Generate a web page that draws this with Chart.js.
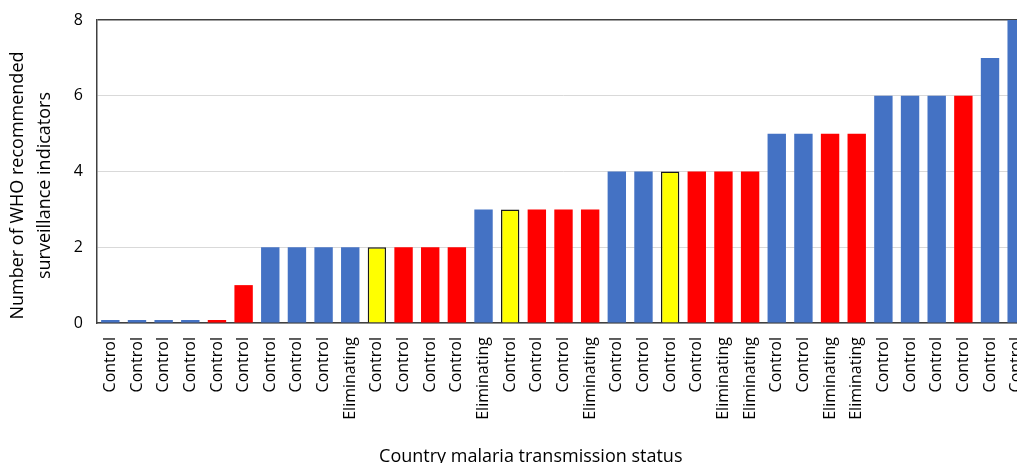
<!DOCTYPE html>
<html>
<head>
<meta charset="utf-8">
<script src="https://cdn.jsdelivr.net/npm/chart.js@4"></script>
<style>
  html, body { margin: 0; padding: 0; background: #fff; overflow: hidden; }
  #wrap { width: 1030px; height: 463px; }
</style>
</head>
<body>
<div id="wrap"><canvas id="myChart"></canvas></div>
<script>
// transmission status of each country (x categories)
var statusLabels = ['Control','Control','Control','Control','Control','Control','Control','Control','Control','Eliminating',
  'Control','Control','Control','Control','Eliminating','Control','Control','Control','Eliminating','Control',
  'Control','Control','Control','Eliminating','Eliminating','Control','Control','Eliminating','Eliminating','Control',
  'Control','Control','Control','Control','Control'];
// number of indicators per country
var indicators = [0.08,0.08,0.08,0.08,0.08,1,2,2,2,2,
  2,2,2,2,3,3,3,3,3,4,
  4,4,4,4,4,5,5,5,5,6,
  6,6,6,7,8];
// bar colour group
var group = ['b','b','b','b','r','r','b','b','b','b',
  'y','r','r','r','b','y','r','r','r','b',
  'b','y','r','r','r','b','b','r','r','b',
  'b','b','r','b','b'];
var yTicks = [0, 2, 4, 6, 8];

var fills = { b: '#4472C4', r: '#FF0000', y: '#FFFF00' };
var edges = { b: '#4472C4', r: '#FF0000', y: '#1a1a1a' };

var font = 'Open Sans';

var ctx = document.getElementById("myChart");
var myChart = new Chart(ctx, {
  type: 'bar',
  data: {
    labels: statusLabels,
    datasets: [{
      data: indicators,
      backgroundColor: group.map(function (g) { return fills[g]; }),
      borderColor: group.map(function (g) { return edges[g]; }),
      borderWidth: group.map(function (g) { return g == 'y' ? 1.5 : 0; }),
      barPercentage: 0.69,
      categoryPercentage: 1
    }]
  },
  options: {
    responsive: true,
    maintainAspectRatio: false,
    animation: false,
    layout: { padding: { top: 20, right: 0, left: 0, bottom: 0 } },
    plugins: { legend: { display: false }, tooltip: { enabled: false } },
    scales: {
      x: {
        grid: { display: false, drawTicks: false },
        border: { color: '#404040', width: 1.5 },
        ticks: {
          autoSkip: false, maxRotation: 90, minRotation: 90, padding: 14,
          color: '#000', font: { family: font, size: 16 }
        },
        title: {
          display: true, text: 'Country malaria transmission status              ', color: '#000',
          font: { family: font, size: 18, lineHeight: 1 }, padding: { top: 0, bottom: -3 }
        },
        afterFit: function (scale) { scale.height = 140; scale.paddingRight = 0; }
      },
      y: {
        min: 0, max: 8,
        afterBuildTicks: function (scale) { scale.ticks = yTicks.map(function (v) { return { value: v }; }); },
        grid: {
          drawTicks: false,
          color: function (c) { return c.tick && c.tick.value == 8 ? '#404040' : '#d9d9d9'; },
          lineWidth: function (c) { return c.tick && c.tick.value == 8 ? 1.5 : 1; }
        },
        border: { color: '#404040', width: 1.5 },
        ticks: { padding: 14, color: '#000', font: { family: font, size: 16 } },
        title: {
          display: true, text: ['Number of WHO recommended      ', 'surveillance indicators      '], color: '#000',
          font: { family: font, size: 18, lineHeight: 1.5 }, padding: { top: 4.5, bottom: 0 }
        },
        afterFit: function (scale) { scale.width = 97; scale.paddingTop = 0; }
      }
    }
  }
});
</script>
</body>
</html>
